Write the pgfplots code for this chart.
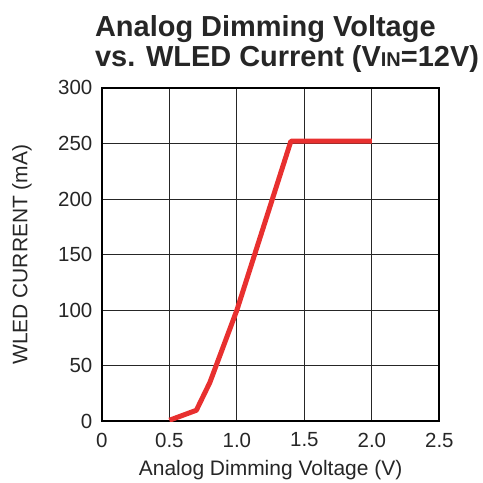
\documentclass[border=0pt]{standalone}
\usepackage{fontspec}
\setmainfont{Liberation Sans}
\usepackage{pgfplots}
\pgfplotsset{compat=1.18}
\definecolor{ledred}{HTML}{E8302F}
\begin{document}
\begin{tikzpicture}
\path (-102pt,-59pt) rectangle (381pt,422pt);
\begin{axis}[
  at={(0pt,0pt)}, anchor=south west,
  scale only axis,
  width=338pt, height=334pt,
  xmin=0, xmax=2.5,
  ymin=0, ymax=300,
  xtick={0,0.5,1,1.5,2,2.5},
  xticklabels={0,0.5,1.0,1.5,2.0,2.5},
  ytick={0,50,100,150,200,250,300},
  grid=major,
  major grid style={black!85, line width=0.9pt},
  axis line style={black, line width=2pt},
  major tick length=0pt,
  /pgf/number format/assume math mode=true,
  ticklabel style={font=\fontsize{20.5}{20.5}\selectfont, text=black!85},
  xticklabel style={yshift=-8pt},
  yticklabel style={xshift=-6pt},
  xlabel={Analog Dimming Voltage (V)},
  ylabel={WLED CURRENT (mA)},
  every axis x label/.style={at={(axis description cs:0.5,-0.1617)}, anchor=base,
    font=\fontsize{21}{21}\selectfont, text=black!85},
  every axis y label/.style={at={(axis description cs:-0.237,0.5)}, anchor=center, rotate=90,
    font=\fontsize{21}{21}\selectfont, text=black!85},
]
\addplot[ledred, line width=5pt, line join=round] coordinates {
 (0.5, 1)
 (0.70, 10)
 (0.80, 35)
 (1.00, 100)
 (1.40, 252)
 (2.00, 252)
};
\end{axis}
\node[anchor=north west, align=left, font=\bfseries\fontsize{29}{30}\selectfont, text=black!85, inner sep=0pt]
  at (-7pt,407pt) {Analog Dimming Voltage\\vs. WLED Current (V{\fontsize{20}{20}\selectfont IN}=12V)};
\end{tikzpicture}
\end{document}
